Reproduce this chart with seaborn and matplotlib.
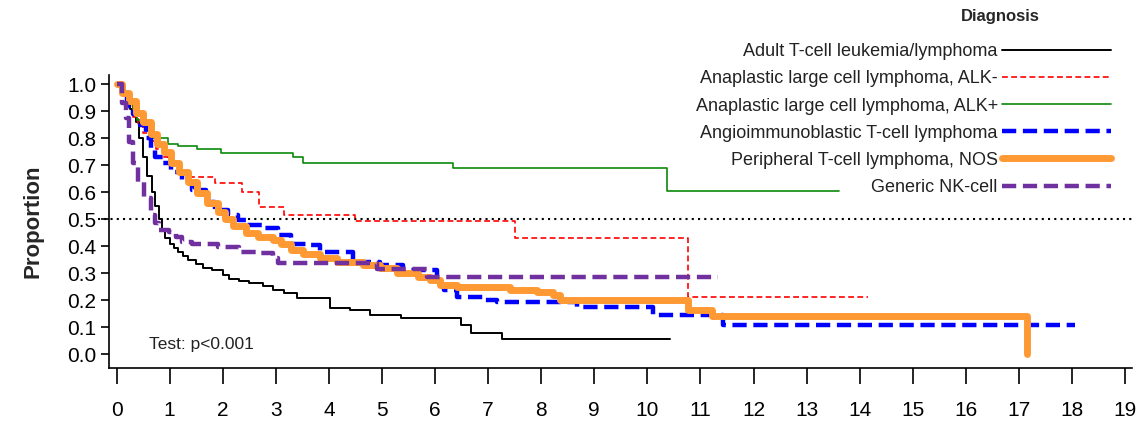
import numpy as np
import pandas as pd
import matplotlib
matplotlib.use("Agg")
import matplotlib.pyplot as plt
import seaborn as sns

# ---------------- data ----------------
labels = ["Adult T-cell leukemia/lymphoma",
          "Anaplastic large cell lymphoma, ALK-",
          "Anaplastic large cell lymphoma, ALK+",
          "Angioimmunoblastic T-cell lymphoma",
          "Peripheral T-cell lymphoma, NOS",
          "Generic NK-cell"]

atll_t = [0, 0.12, 0.25, 0.36, 0.43, 0.5, 0.58, 0.66, 0.73, 0.79, 0.85, 0.92, 1.0, 1.08,
          1.15, 1.25, 1.35, 1.49, 1.62, 1.8, 2.0, 2.11, 2.3, 2.49, 2.75, 2.94, 3.15, 3.4,
          4.03, 4.4, 4.78, 5.35, 6.48, 6.67, 7.27, 10.43]
atll_s = [1.0, 0.96, 0.91, 0.86, 0.8, 0.73, 0.66, 0.6, 0.55, 0.5, 0.46, 0.43, 0.41, 0.395,
          0.38, 0.365, 0.35, 0.335, 0.32, 0.31, 0.295, 0.28, 0.272, 0.265, 0.252, 0.237, 0.225, 0.207,
          0.17, 0.163, 0.144, 0.133, 0.107, 0.078, 0.055, 0.055]

alkneg_t = [0, 0.1, 0.2, 0.3, 0.4, 0.5, 0.62, 0.75, 0.87, 0.96, 1.15, 1.34, 1.86, 2.36,
            2.69, 3.15, 4.5, 7.51, 10.77, 14.16]
alkneg_s = [1.0, 0.96, 0.92, 0.88, 0.85, 0.82, 0.79, 0.76, 0.73, 0.71, 0.674, 0.655, 0.633, 0.6,
            0.545, 0.515, 0.495, 0.43, 0.21, 0.21]

alkpos_t = [0, 0.1, 0.2, 0.3, 0.39, 0.5, 0.64, 0.96, 1.15, 1.52, 1.96, 3.33, 3.52, 6.33, 10.37, 13.62]
alkpos_s = [1.0, 0.97, 0.94, 0.9, 0.87, 0.85, 0.8, 0.78, 0.77, 0.76, 0.745, 0.73, 0.71, 0.69, 0.605, 0.605]

aitl_t = [0, 0.1, 0.2, 0.3, 0.45, 0.55, 0.64, 0.73, 0.87, 1.02, 1.24, 1.43, 1.68, 1.86, 2.09,
          2.28, 2.43, 2.75, 3.05, 3.28, 3.65, 3.84, 4.46, 4.97, 5.4, 6.04, 6.16, 6.42, 6.91,
          7.17, 8.68, 10.11, 11.43, 18.05]
aitl_s = [1.0, 0.96, 0.92, 0.89, 0.85, 0.8, 0.763, 0.73, 0.707, 0.674, 0.637, 0.607, 0.563, 0.533, 0.515,
          0.496, 0.478, 0.466, 0.44, 0.41, 0.404, 0.378, 0.34, 0.33, 0.311, 0.256, 0.237, 0.211, 0.2,
          0.193, 0.174, 0.144, 0.107, 0.107]

ptcl_t = [0, 0.1, 0.23, 0.36, 0.49, 0.64, 0.77, 0.89, 1.02, 1.17, 1.34, 1.52, 1.71, 1.92, 2.05,
          2.2, 2.43, 2.67, 2.94, 3.09, 3.28, 3.52, 3.84, 4.16, 4.65, 4.97, 5.29, 5.67, 5.91, 6.1,
          6.42, 7.42, 7.93, 8.23, 8.36, 10.77, 11.22, 17.15, 17.15]
ptcl_s = [1.0, 0.97, 0.94, 0.896, 0.86, 0.818, 0.78, 0.748, 0.71, 0.674, 0.637, 0.596, 0.56, 0.526, 0.5,
          0.475, 0.448, 0.433, 0.422, 0.41, 0.385, 0.37, 0.355, 0.34, 0.33, 0.318, 0.3, 0.285, 0.274, 0.256,
          0.248, 0.238, 0.23, 0.218, 0.2, 0.163, 0.142, 0.142, 0.0]

nk_t = [0, 0.11, 0.17, 0.23, 0.3, 0.4, 0.51, 0.64, 0.73, 0.79, 0.98, 1.11, 1.24, 1.43, 1.92,
        2.3, 2.67, 2.94, 3.05, 4.9, 5.85, 11.33]
nk_s = [1.0, 0.933, 0.874, 0.785, 0.71, 0.637, 0.578, 0.515, 0.485, 0.46, 0.452, 0.433, 0.415, 0.41, 0.396,
        0.378, 0.374, 0.355, 0.337, 0.315, 0.285, 0.285]

x_ticks = list(range(0, 20))
y_ticks = [0.0, 0.1, 0.2, 0.3, 0.4, 0.5, 0.6, 0.7, 0.8, 0.9, 1.0]
p_text = "Test: p<0.001"

# ---------------- styling ----------------
sns.set_theme(style="white")
plt.rcParams["font.family"] = ["Liberation Sans", "DejaVu Sans"]

series = [
    (atll_t, atll_s, dict(color="black", lw=1.4, ls="-")),
    (alkneg_t, alkneg_s, dict(color="#FF0000", lw=1.2, ls=(0, (3.5, 2)))),
    (alkpos_t, alkpos_s, dict(color="#0A8A0A", lw=1.2, ls="-")),
    (aitl_t, aitl_s, dict(color="#0000FF", lw=3.2, ls=(0, (3.2, 1.5)))),
    (ptcl_t, ptcl_s, dict(color="#FF9933", lw=5.0, ls="-")),
    (nk_t, nk_s, dict(color="#7030A0", lw=3.2, ls=(0, (3.2, 1.5)))),
]

fig = plt.figure(figsize=(11.45, 4.25), dpi=100)
ax = fig.add_axes([0.0856, 0.134, 0.903, 0.6894])

handles = []
for (t, s, st), lab in zip(series, labels):
    df = pd.DataFrame({"time": t, "surv": s})
    sns.lineplot(data=df, x="time", y="surv", ax=ax, estimator=None, sort=False,
                 drawstyle="steps-post", color=st["color"], linewidth=st["lw"],
                 linestyle=st["ls"], label=lab, legend=False)
    handles.append(ax.lines[-1])

ax.axhline(0.5, color="black", lw=1.5, ls=(0, (1, 2)), zorder=0.5)

ax.set_xlim(-0.35, 19.13)
ax.set_ylim(-0.052, 1.035)
ax.set_xticks(x_ticks)
ax.set_xticklabels([str(v) for v in x_ticks])
ax.set_yticks(y_ticks)
ax.set_yticklabels([f"{v:.1f}" for v in y_ticks])

for sp in ["top", "right"]:
    ax.spines[sp].set_visible(False)
ax.spines["left"].set_position(("data", -0.15))
ax.spines["bottom"].set_bounds(-0.15, 19.13)
for sp in ["left", "bottom"]:
    ax.spines[sp].set_color("black")
    ax.spines[sp].set_linewidth(1.2)

ax.tick_params(axis="x", direction="out", length=11.5, width=1.2, pad=12,
               labelsize=15, colors="black", bottom=True)
ax.tick_params(axis="y", direction="out", length=6, width=1.2, pad=3,
               labelsize=15, colors="black", left=True)

ax.set_xlabel("")
ax.set_ylabel("Proportion", fontsize=16, fontweight="bold", labelpad=17)

ax.text(0.62, 0.035, p_text, fontsize=12.5, va="center", ha="left", color="#222222")

leg = ax.legend(handles, labels, loc="upper right", bbox_to_anchor=(0.970, 0.898),
                bbox_transform=fig.transFigure, markerfirst=False, frameon=False,
                fontsize=13, handlelength=6.0, handletextpad=0.25, labelspacing=0.56,
                borderpad=0, borderaxespad=0)
for txt in leg.get_texts():
    txt.set_color("#222222")

fig.text(0.874, 0.962, "Diagnosis", fontsize=12, fontweight="bold", ha="center", va="center")

fig.savefig("out.png", dpi=100)
